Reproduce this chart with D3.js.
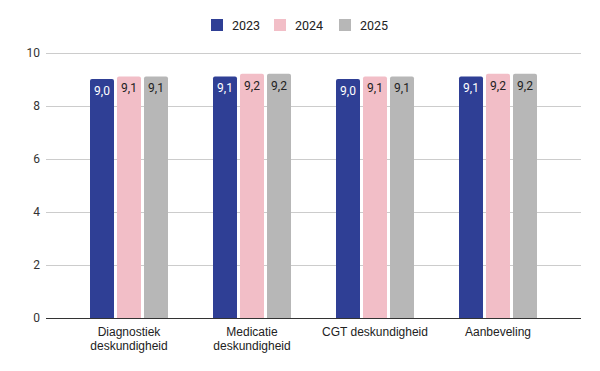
<!DOCTYPE html>
<html>
<head>
<meta charset="utf-8">
<script src="https://cdn.jsdelivr.net/npm/d3@7"></script>
<style>
  body { margin: 0; background: #fff; }
  svg { display: block; font-family: Roboto, Arial, sans-serif; }
</style>
</head>
<body>
<div id="chart"></div>
<script>
const categories = ["Diagnostiek deskundigheid", "Medicatie deskundigheid", "CGT deskundigheid", "Aanbeveling"]
const years = ["2023", "2024", "2025"]
const values2023 = [9.0, 9.1, 9.0, 9.1]
const values2024 = [9.1, 9.2, 9.1, 9.2]
const values2025 = [9.1, 9.2, 9.1, 9.2]
const yTicks = [0, 2, 4, 6, 8, 10]

const seriesValues = [values2023, values2024, values2025]
const colors = ["#2f3f95", "#f2bec7", "#b7b7b7"]
const labelColors = ["#ffffff", "#222222", "#222222"]

const width = 600
const height = 371
const plot = { left: 46, right: 581, top: 51, bottom: 318 }

const svg = d3.select("#chart")
  .append("svg")
  .attr("width", width)
  .attr("height", height)

const y = d3.scaleLinear()
  .domain([0, 10])
  .range([plot.bottom, plot.top + 1.5])

const x = d3.scaleBand()
  .domain(categories)
  .range([67.5, 559.5])
  .paddingInner(45 / 123)
  .paddingOuter(22.5 / 123)

const xs = d3.scaleBand()
  .domain(years)
  .range([0, x.bandwidth()])
  .paddingInner(3 / 27)

// gridlines
svg.append("g")
  .selectAll("line")
  .data(yTicks.filter((d) => d !== 0))
  .enter()
  .append("line")
  .attr("x1", plot.left)
  .attr("x2", plot.right)
  .attr("y1", (d) => Math.round(y(d)) + 0.5)
  .attr("y2", (d) => Math.round(y(d)) + 0.5)
  .attr("stroke", "#cccccc")
  .attr("stroke-width", 1)

// y labels
svg.append("g")
  .selectAll("text")
  .data(yTicks)
  .enter()
  .append("text")
  .attr("x", 40)
  .attr("y", (d) => y(d) + 4)
  .attr("text-anchor", "end")
  .attr("font-size", "12px")
  .attr("fill", "#333")
  .text((d) => d)

// bars
const rows = []
categories.forEach((c, i) => {
  years.forEach((yr, j) => {
    rows.push({ cat: c, year: yr, idx: j, value: seriesValues[j][i] })
  })
})

const groups = svg.append("g")

groups.selectAll("path")
  .data(rows)
  .enter()
  .append("path")
  .attr("fill", (d) => colors[d.idx])
  .attr("d", (d) => {
    const x0 = x(d.cat) + xs(d.year)
    const w = xs.bandwidth()
    const y0 = y(d.value)
    const y1 = y(0)
    const r = 2
    return `M${x0},${y1}V${y0 + r}Q${x0},${y0} ${x0 + r},${y0}H${x0 + w - r}Q${x0 + w},${y0} ${x0 + w},${y0 + r}V${y1}Z`
  })

groups.selectAll("text")
  .data(rows)
  .enter()
  .append("text")
  .attr("x", (d) => x(d.cat) + xs(d.year) + xs.bandwidth() / 2)
  .attr("y", (d) => y(d.value) + 16)
  .attr("text-anchor", "middle")
  .attr("font-size", "12px")
  .attr("fill", (d) => labelColors[d.idx])
  .text((d) => d.value.toFixed(1).replace(".", ","))

// x axis line
svg.append("line")
  .attr("x1", plot.left)
  .attr("x2", plot.right)
  .attr("y1", plot.bottom + 0.5)
  .attr("y2", plot.bottom + 0.5)
  .attr("stroke", "#333")
  .attr("stroke-width", 1)

// x labels, wrapped to the category step
const xLabels = svg.append("g")
  .selectAll("text")
  .data(categories)
  .enter()
  .append("text")
  .attr("x", (d) => x(d) + x.bandwidth() / 2)
  .attr("y", 336)
  .attr("text-anchor", "middle")
  .attr("font-family", "'Liberation Sans', Arial, sans-serif")
  .attr("font-size", "12px")
  .attr("fill", "#222")
  .text((d) => d)

xLabels.each(function (d) {
  const t = d3.select(this)
  if (this.getComputedTextLength() <= x.step() - 4) return
  const words = d.split(" ")
  t.text(null)
  const cx = x(d) + x.bandwidth() / 2
  words.forEach((w, i) => {
    t.append("tspan")
      .attr("x", cx)
      .attr("dy", i === 0 ? 0 : 14)
      .text(w)
  })
})

// legend
const legend = svg.append("g")
const legendX = [211, 274, 339]
years.forEach((yr, i) => {
  legend.append("rect")
    .attr("x", legendX[i])
    .attr("y", 19)
    .attr("width", 12)
    .attr("height", 12)
    .attr("fill", colors[i])
  legend.append("text")
    .attr("x", legendX[i] + 21)
    .attr("y", 30)
    .attr("font-size", "12.5px")
    .attr("fill", "#222")
    .text(yr)
})
</script>
</body>
</html>
